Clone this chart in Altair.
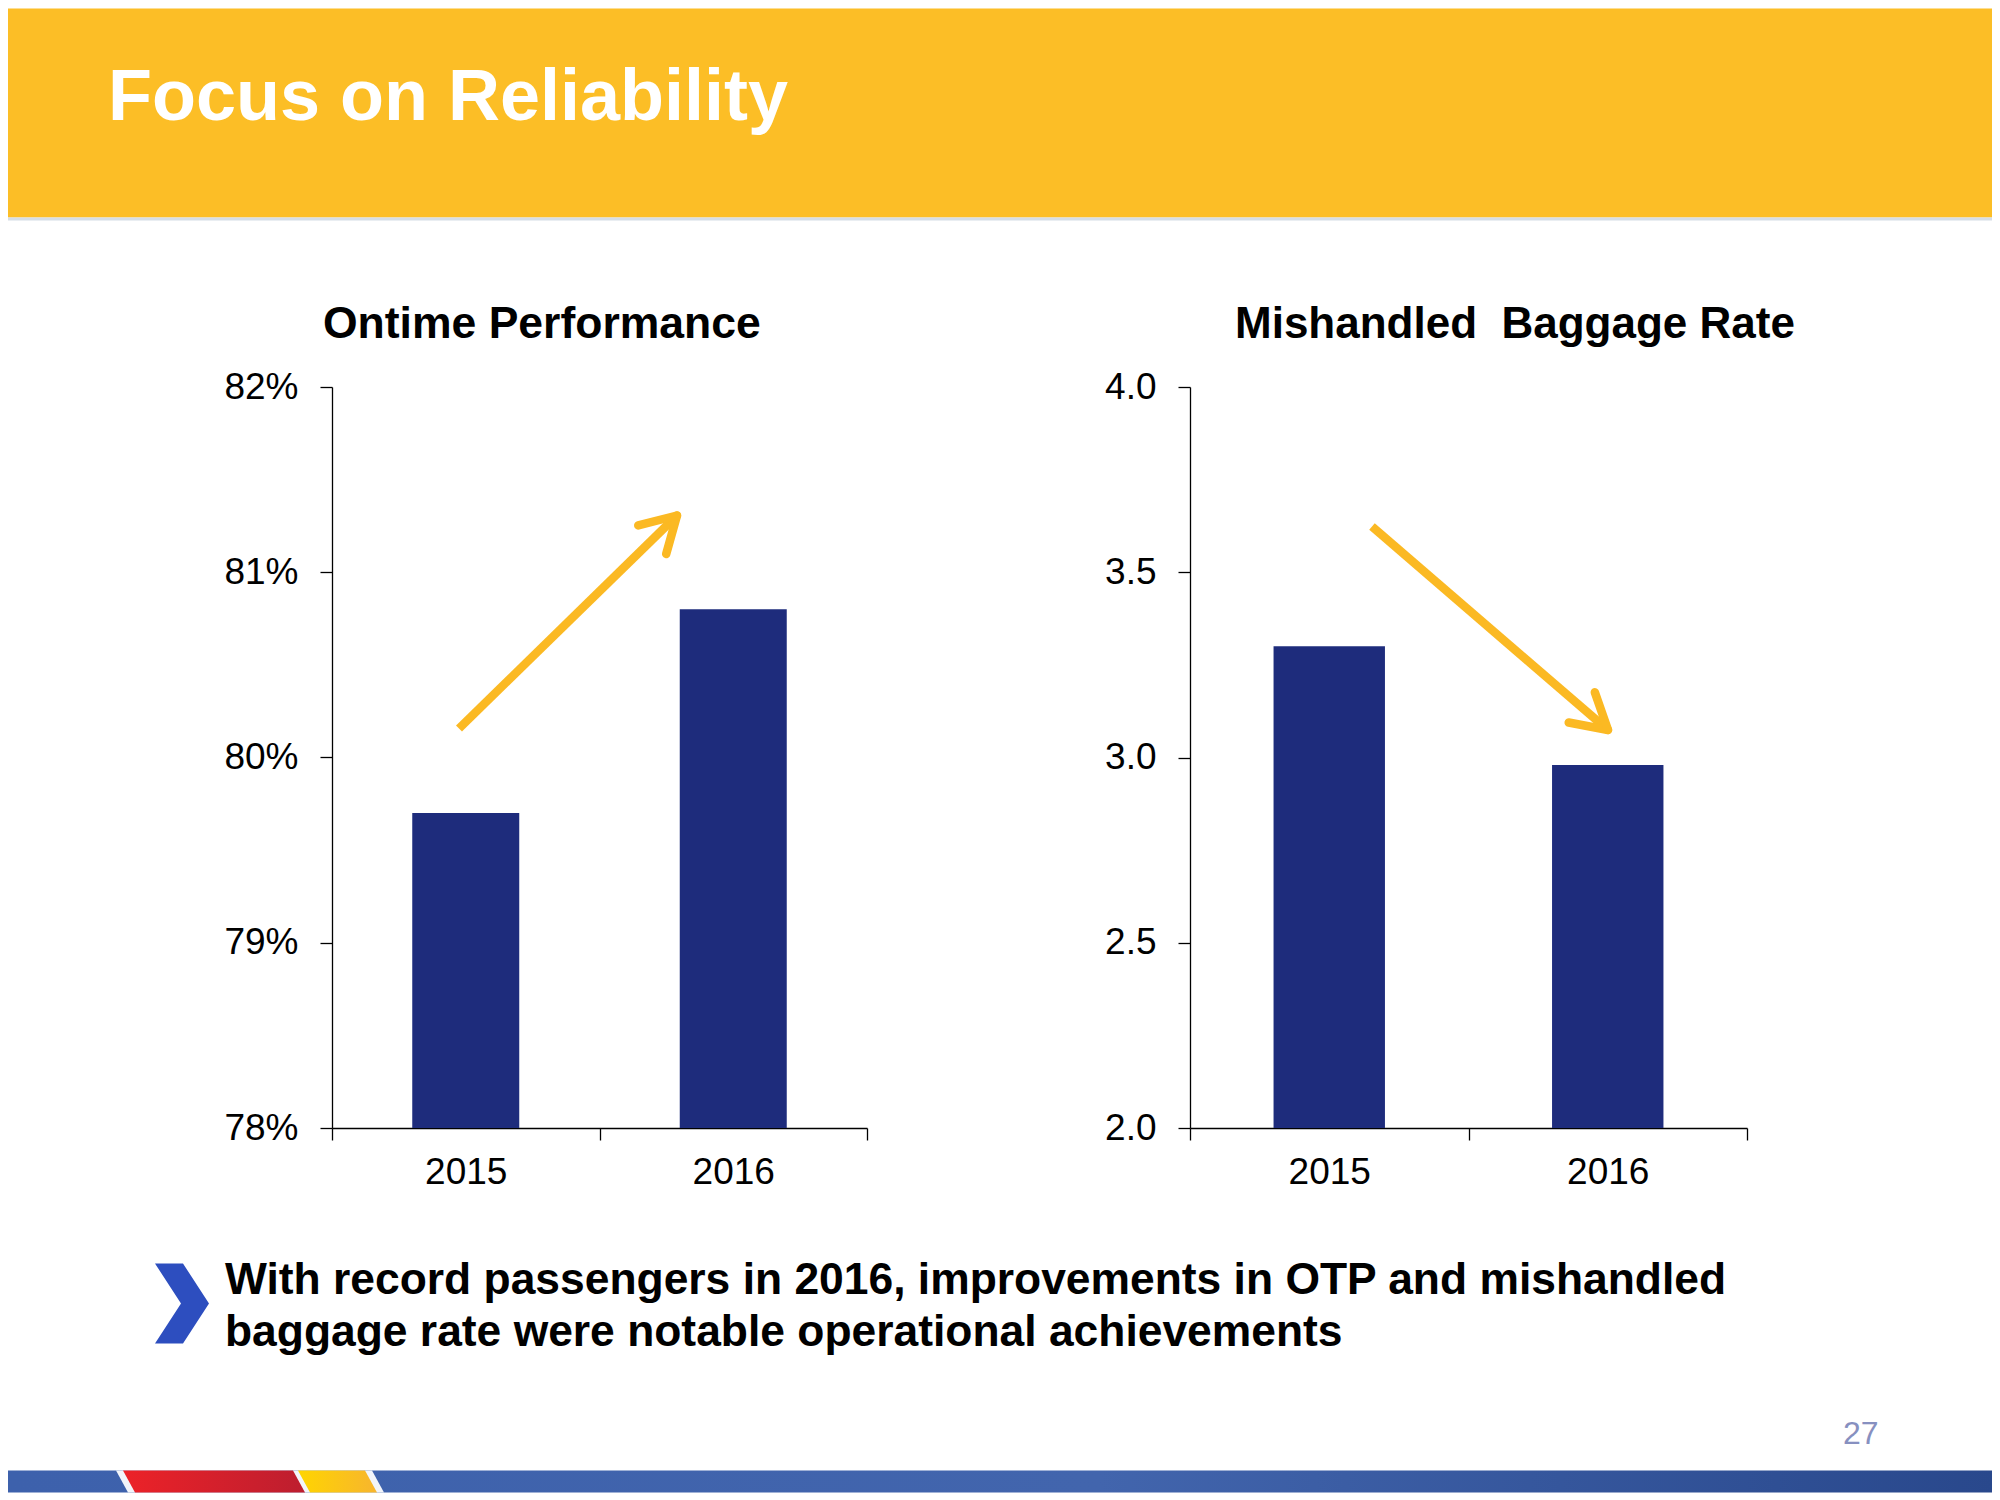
import math
import altair as alt
import pandas as pd

# ---------------- data ----------------
years = ["2015", "2016"]
ontime_pct = [0.797, 0.808]
baggage_rate = [3.30, 2.98]
ontime_ticks = [0.78, 0.79, 0.80, 0.81, 0.82]
baggage_ticks = [2.0, 2.5, 3.0, 3.5, 4.0]

slide_title = "Focus on Reliability"
left_title = "Ontime Performance"
right_title = "Mishandled\u00a0 Baggage Rate"
bullet_lines = [
    "With record passengers in 2016, improvements in OTP and mishandled",
    "baggage rate were notable operational achievements",
]
page_number = "27"

# ---------------- style ----------------
FONT = "Liberation Sans"
NAVY = "#1E2C7C"
GOLD = "#FBB923"
YELLOW_BAR = "#FCBE26"
BLUE_BULLET = "#2D4EBF"

# panel origins on the page (px), used for annotation placement
LX, LY = 332, 386.5          # left plot origin
RX, RY = 1190, 386.5         # right plot origin
LW, RW, H = 535, 557, 741

one = pd.DataFrame({"k": [0]})


def txt(text, x, y, size, color="#000000", weight="bold", align="left"):
    return alt.Chart(pd.DataFrame({"t": [text]})).mark_text(
        align=align, baseline="alphabetic", fontSize=size, fontWeight=weight,
        font=FONT, color=color
    ).encode(x=alt.value(x), y=alt.value(y), text="t:N")


def rect(x, x2, y, y2, color):
    return alt.Chart(one).mark_rect(color=color).encode(
        x=alt.value(x), x2=alt.value(x2), y=alt.value(y), y2=alt.value(y2))


def poly(points, color, ox, oy):
    cx = sum(p[0] for p in points) / len(points)
    cy = sum(p[1] for p in points) / len(points)
    r = 100.0
    path = "M " + " L ".join(f"{(x - cx) / r:.4f} {(y - cy) / r:.4f}" for x, y in points) + " Z"
    return alt.Chart(one).mark_point(
        shape=path, filled=True, size=(2 * r) ** 2, color=color, opacity=1, strokeWidth=0
    ).encode(x=alt.value(cx - ox), y=alt.value(cy - oy))


def rule(x0, y0, x1, y1, width, color, cap="butt"):
    return alt.Chart(one).mark_rule(strokeWidth=width, color=color, strokeCap=cap).encode(
        x=alt.value(x0), y=alt.value(y0), x2=alt.value(x1), y2=alt.value(y1))


def arrow(x0, y0, x1, y1, head=40, ang=30, width=8.5):
    dx, dy = x1 - x0, y1 - y0
    L = math.hypot(dx, dy)
    ux, uy = dx / L, dy / L
    layers = [rule(x0, y0, x1 - ux * 3, y1 - uy * 3, width, GOLD)]
    for s in (-1, 1):
        a = math.radians(ang) * s
        bx, by = -ux, -uy
        rx = bx * math.cos(a) - by * math.sin(a)
        ry = bx * math.sin(a) + by * math.cos(a)
        layers.append(rule(x1, y1, x1 + rx * head, y1 + ry * head, width, GOLD, cap="round"))
    return layers


axis_common = dict(title=None, grid=False, domainColor="#000000", tickColor="#000000",
                   domainWidth=1.3, tickWidth=1.3, tickSize=12, labelColor="#000000",
                   labelFont=FONT, labelFontSize=37)

# ---------------- left panel ----------------
df_l = pd.DataFrame({"year": years, "value": ontime_pct})
bars_l = alt.Chart(df_l).mark_bar(color=NAVY, width=alt.RelativeBandSize(0.4)).encode(
    x=alt.X("year:N", sort=years, scale=alt.Scale(paddingInner=0, paddingOuter=0),
            axis=alt.Axis(labelAngle=0, tickBand="extent", labelPadding=14, **axis_common)),
    y=alt.Y("value:Q", scale=alt.Scale(domain=[0.78, 0.82], zero=False, nice=False),
            axis=alt.Axis(values=ontime_ticks, format=".0%", labelPadding=22, **axis_common)),
    y2=alt.datum(0.78),
)

# page decorations (placed relative to left plot origin)
header = rect(8 - LX, 1992 - LX, 8 - LY, 217 - LY, YELLOW_BAR)
header_line = rect(8 - LX, 1992 - LX, 217 - LY, 220 - LY, "#D5DEE6")
main_title = txt(slide_title, 108 - LX, 119 - LY, 72, color="#FFFFFF")

stripe_grad = alt.LinearGradient(
    gradient="linear",
    stops=[alt.GradientStop(color="#3D61AC", offset=0),
           alt.GradientStop(color="#4265AD", offset=0.55),
           alt.GradientStop(color="#29488C", offset=1)],
    x1=0, x2=1, y1=0, y2=0)
stripe = rect(8 - LX, 1992 - LX, 1470 - LY, 1492 - LY, stripe_grad)
red_grad = alt.LinearGradient(
    gradient="linear",
    stops=[alt.GradientStop(color="#EC2228", offset=0),
           alt.GradientStop(color="#BD1E2F", offset=1)],
    x1=0, x2=1, y1=0, y2=0)
yel_grad = alt.LinearGradient(
    gradient="linear",
    stops=[alt.GradientStop(color="#FFD500", offset=0),
           alt.GradientStop(color="#F7B52E", offset=1)],
    x1=0, x2=1, y1=0, y2=0)
gap = poly([(116, 1470), (372, 1470), (384, 1492), (128, 1492)], "#F2F5FA", LX, LY)
red = poly([(123, 1470), (293, 1470), (305, 1492), (135, 1492)], red_grad, LX, LY)
yel = poly([(298, 1470), (365, 1470), (377, 1492), (310, 1492)], yel_grad, LX, LY)

chevron = poly([(155, 1263), (183, 1263), (209, 1303), (183, 1343), (155, 1343), (181, 1303)],
               BLUE_BULLET, LX, LY)
bullet1 = txt(bullet_lines[0], 225 - LX, 1293 - LY, 44.4)
bullet2 = txt(bullet_lines[1], 225 - LX, 1345 - LY, 44.4)
pnum = txt(page_number, 1843 - LX, 1443 - LY, 32, color="#8790C0", weight="normal")

title_l = txt(left_title, 323 - LX, 337 - LY, 44.5)
arrow_l = arrow(459 - LX, 728 - LY, 677 - LX, 515 - LY)

left = alt.layer(
    header, header_line, main_title, stripe, gap, red, yel,
    chevron, bullet1, bullet2, pnum,
    bars_l, title_l, *arrow_l
).properties(width=LW, height=H)

# ---------------- right panel ----------------
df_r = pd.DataFrame({"year": years, "value": baggage_rate})
bars_r = alt.Chart(df_r).mark_bar(color=NAVY, width=alt.RelativeBandSize(0.4)).encode(
    x=alt.X("year:N", sort=years, scale=alt.Scale(paddingInner=0, paddingOuter=0),
            axis=alt.Axis(labelAngle=0, tickBand="extent", labelPadding=14, **axis_common)),
    y=alt.Y("value:Q", scale=alt.Scale(domain=[2.0, 4.0], zero=False, nice=False),
            axis=alt.Axis(values=baggage_ticks, format=".1f", labelPadding=22, **axis_common)),
    y2=alt.datum(2.0),
)
title_r = txt(right_title, 1235 - RX, 337 - RY, 44)
arrow_r = arrow(1372 - RX, 526 - RY, 1608 - RX, 729.5 - RY)

right = alt.layer(bars_r, title_r, *arrow_r).properties(width=RW, height=H)

chart = alt.hconcat(left, right, spacing=RX - (LX + LW), bounds="flush").properties(
    padding=0, background="#FFFFFF"
).configure_view(strokeWidth=0)

chart.save("out.html", embed_options={"renderer": "svg", "actions": False})
